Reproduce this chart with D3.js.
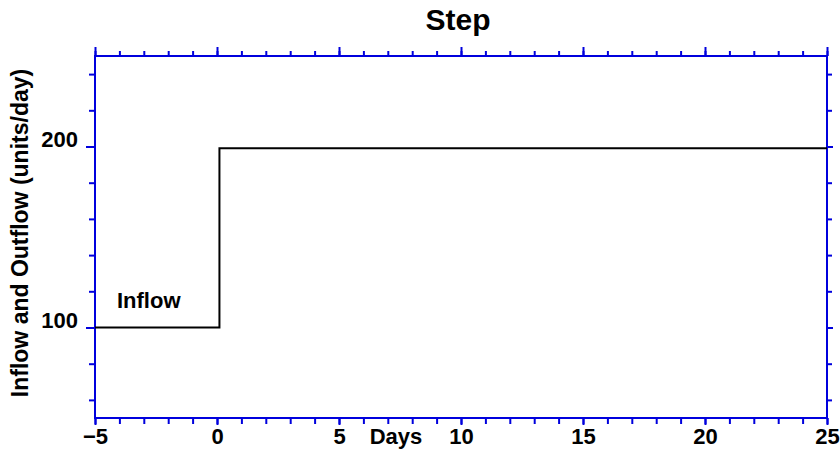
<!DOCTYPE html>
<html><head><meta charset="utf-8">
<script src="https://cdn.jsdelivr.net/npm/d3@7"></script>
<style>body{margin:0;background:#fff}svg{display:block}text{font-family:"Liberation Sans",Arial,sans-serif;font-weight:bold;fill:#000}</style>
</head><body><svg id="c" width="840" height="453"></svg>
<script>
const stepX = [-5, 0.1, 0.1, 25];
const inflow = [100, 100, 199, 199];
const xTicks = [-5, 0, 5, 10, 15, 20, 25];
const yTicks = [100, 200];
const title = "Step";
const xLabel = "Days";
const yLabel = "Inflow and Outflow (units/day)";
const seriesLabel = "Inflow";

const svg = d3.select("#c");
const m = {l:95, r:827, t:56, b:418};
const x = d3.scaleLinear().domain([-5,25]).range([m.l,m.r]);
const y = d3.scaleLinear().domain([50,250]).range([m.b,m.t]);
const blue = "#0000dd";

const xMinor = d3.range(-5, 25.01, 1);
const yMinor = d3.range(60, 250, 20);

function styleAxis(g){
  g.select(".domain").remove();
  g.selectAll(".tick line").attr("stroke", blue).attr("stroke-width", 2);
}
// minor ticks
svg.append("g").attr("transform",`translate(0,${m.b})`).call(d3.axisBottom(x).tickValues(xMinor).tickSize(6).tickFormat("")).call(styleAxis);
svg.append("g").attr("transform",`translate(0,${m.t})`).call(d3.axisTop(x).tickValues(xMinor).tickSize(5).tickFormat("")).call(styleAxis);
svg.append("g").attr("transform",`translate(${m.l},0)`).call(d3.axisLeft(y).tickValues(yMinor).tickSize(6).tickFormat("")).call(styleAxis);
svg.append("g").attr("transform",`translate(${m.r},0)`).call(d3.axisRight(y).tickValues(yMinor).tickSize(5).tickFormat("")).call(styleAxis);
// major ticks
const xb = svg.append("g").attr("transform",`translate(0,${m.b})`).call(d3.axisBottom(x).tickValues(xTicks).tickSize(7).tickPadding(3)).call(styleAxis);
xb.selectAll("text").style("font-size","22px").attr("fill","#000").attr("font-family",null);
svg.append("g").attr("transform",`translate(0,${m.t})`).call(d3.axisTop(x).tickValues(xTicks).tickSize(9).tickFormat("")).call(styleAxis);
const yl = svg.append("g").attr("transform",`translate(${m.l},0)`).call(d3.axisLeft(y).tickValues(yTicks).tickSize(9).tickPadding(8)).call(styleAxis);
yl.selectAll("text").style("font-size","22px").attr("fill","#000").attr("dy","0.02em").attr("font-family",null);
svg.append("g").attr("transform",`translate(${m.r},0)`).call(d3.axisRight(y).tickValues(yTicks).tickSize(6).tickFormat("")).call(styleAxis);

svg.append("rect").attr("x",m.l).attr("y",m.t).attr("width",m.r-m.l).attr("height",m.b-m.t)
  .attr("fill","none").attr("stroke",blue).attr("stroke-width",2);

const line = d3.line().x((d,i)=>x(stepX[i])).y(d=>y(d));
svg.append("path").datum(inflow).attr("d",line).attr("fill","none").attr("stroke","#000").attr("stroke-width",2);

svg.append("text").attr("x",(m.l+m.r)/2-3).attr("y",30).attr("text-anchor","middle").style("font-size","30px").text(title);
svg.append("text").attr("x",396).attr("y",444).attr("text-anchor","middle").style("font-size","22px").text(xLabel);
svg.append("text").attr("transform",`translate(28,233) rotate(-90)`).attr("text-anchor","middle").style("font-size","23px").text(yLabel);
svg.append("text").attr("x",x(-4.1)).attr("y",y(111)).style("font-size","22px").text(seriesLabel);
</script></body></html>
